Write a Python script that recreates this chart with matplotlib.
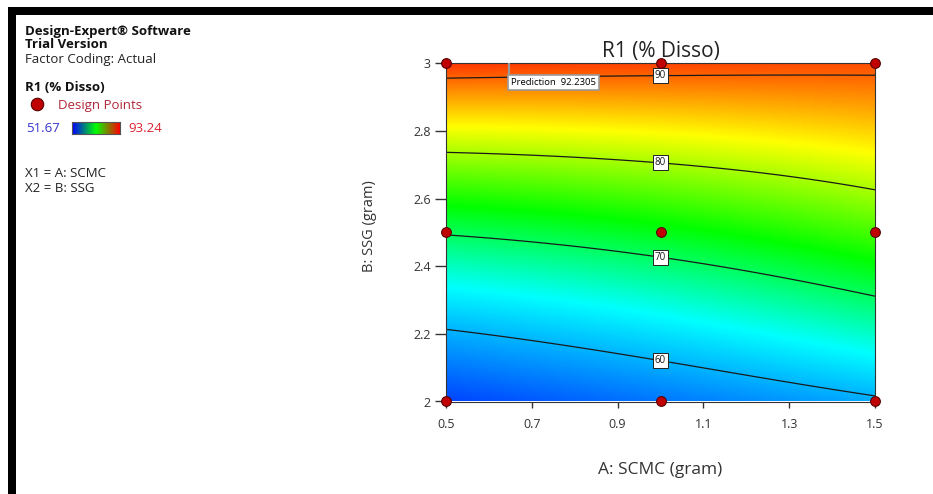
import matplotlib.pyplot as plt
import numpy as np
from matplotlib.colors import LinearSegmentedColormap
from matplotlib.patches import Rectangle

plt.rcParams['font.family'] = ['Open Sans', 'DejaVu Sans']

# design points (A: SCMC, B: SSG)
scmc = [0.5, 1.0, 1.5, 0.5, 1.0, 1.5, 0.5, 1.0, 1.5]
ssg = [2.0, 2.0, 2.0, 2.5, 2.5, 2.5, 3.0, 3.0, 3.0]

# fitted model for R1 in coded units, terms: 1, x, y, xy, x2, y2, xy2, x2y2
coefs = [72.54, 2.90, 17.56, -1.78, 0.63, 1.35, -1.675, -0.545]

levels = [60, 70, 80, 90]
r_low, r_high = 51.67, 93.24
pred_a, pred_b = 0.647, 3.0
pred_value = 92.2305

xticks = [0.5, 0.7, 0.9, 1.1, 1.3, 1.5]
xtick_labels = ['0.5', '0.7', '0.9', '1.1', '1.3', '1.5']
yticks = [2.0, 2.2, 2.4, 2.6, 2.8, 3.0]
ytick_labels = ['2', '2.2', '2.4', '2.6', '2.8', '3']


def r1(a, b):
    x = (a - 1.0) / 0.5
    y = (b - 2.5) / 0.5
    c = coefs
    return (c[0] + c[1] * x + c[2] * y + c[3] * x * y + c[4] * x ** 2
            + c[5] * y ** 2 + c[6] * x * y ** 2 + c[7] * x ** 2 * y ** 2)


W, H = 933, 494
fig = plt.figure(figsize=(W / 100, H / 100), dpi=100)


def fx(px):
    return px / W


def fy(py):
    return 1 - py / H


cmap = LinearSegmentedColormap.from_list(
    'de', [(0.0, '#0028ff'), (0.3, '#00ffff'), (0.52, '#00ff00'),
           (0.76, '#ffff00'), (1.0, '#ff1800')])

ax = fig.add_axes([fx(446), fy(401.5), fx(875) - fx(446), (401.5 - 63.5) / H])

A = np.linspace(0.5, 1.5, 400)
B = np.linspace(2.0, 3.0, 400)
AA, BB = np.meshgrid(A, B)
Z = r1(AA, BB)

ax.imshow(Z, extent=[0.5, 1.5, 2.0, 3.0], origin='lower', aspect='auto',
          cmap=cmap, vmin=r_low, vmax=r_high, interpolation='bilinear')
cs = ax.contour(A, B, Z, levels=levels, colors='#1a1a1a', linewidths=0.9)

# contour labels placed on the A = 1.0 line
mid = np.argmin(np.abs(A - 1.0))
positions = [(1.0, np.interp(lev, Z[:, mid], B)) for lev in levels]
texts = ax.clabel(cs, manual=positions, inline=False, fontsize=7, fmt='%d')
for t in texts:
    t.set_rotation(0)
    t.set_bbox(dict(boxstyle='square,pad=0.2', fc='white', ec='#222222', lw=0.7))

ax.plot(scmc, ssg, 'o', ms=7, mfc='#c00000', mec='#5a0000', mew=0.8,
        clip_on=False, zorder=6)

# prediction flag
ax.plot([pred_a, pred_a], [pred_b, 2.958], color='#999999', lw=1.6, zorder=5)
ax.text(pred_a + 0.004, 2.957, 'Prediction  %.4f' % pred_value, fontsize=6.8,
        ha='left', va='top', zorder=7,
        bbox=dict(boxstyle='square,pad=0.3', fc='white', ec='#999999', lw=1.2))

ax.set_xlim(0.5, 1.5)
ax.set_ylim(2.0, 3.0)
ax.set_xticks(xticks)
ax.set_xticklabels(xtick_labels)
ax.set_yticks(yticks)
ax.set_yticklabels(ytick_labels)
ax.tick_params(axis='x', direction='out', length=4, width=1, pad=8,
               color='#333333', labelsize=9, labelcolor='#333333')
ax.tick_params(axis='y', direction='out', length=8, width=1, pad=3,
               color='#333333', labelsize=9, labelcolor='#333333')
for s in ax.spines.values():
    s.set_color('#333333')
    s.set_linewidth(0.8)

ax.text(0.5, 1.035, 'R1 (% Disso)', transform=ax.transAxes, ha='center',
        va='center', fontsize=15, color='#222222')
ax.set_xlabel('A: SCMC (gram)', fontsize=12.5, color='#333333')
ax.xaxis.set_label_coords(0.5, -0.18)
ax.set_ylabel('B: SSG (gram)', fontsize=10.5, color='#333333')
ax.yaxis.set_label_coords(-0.16, 0.52)

# side legend
fig.text(fx(25), fy(31.5), 'Design-Expert® Software', fontsize=9.5,
         fontweight='bold', va='center', color='#111111')
fig.text(fx(25), fy(44.5), 'Trial Version', fontsize=9.5,
         fontweight='bold', va='center', color='#111111')
fig.text(fx(25), fy(59), 'Factor Coding: Actual', fontsize=9.5,
         va='center', color='#222222')
fig.text(fx(25), fy(87), 'R1 (% Disso)', fontsize=9.5,
         fontweight='bold', va='center', color='#111111')
fig.lines.append(plt.Line2D([fx(37)], [fy(104)], marker='o', ms=9,
                            mfc='#c00000', mec='#5a0000', mew=0.8,
                            transform=fig.transFigure))
fig.text(fx(58), fy(105), 'Design Points', fontsize=9.5, va='center',
         color='#b0283a')
fig.text(fx(26), fy(128), '%.2f' % r_low, fontsize=9.5, va='center',
         color='#3333cc')
fig.text(fx(128), fy(128), '%.2f' % r_high, fontsize=9.5, va='center',
         color='#dd2233')
cax = fig.add_axes([fx(72), fy(134), fx(120) - fx(72), 12 / H])
bar_cmap = LinearSegmentedColormap.from_list('bar', ['#0000ff', '#00ff00', '#ff0000'])
cax.imshow(np.linspace(0, 1, 100).reshape(1, -1), aspect='auto', cmap=bar_cmap)
cax.set_xticks([])
cax.set_yticks([])
for s in cax.spines.values():
    s.set_color('#555555')
    s.set_linewidth(0.8)
fig.text(fx(25), fy(173), 'X1 = A: SCMC', fontsize=9.5, va='center', color='#222222')
fig.text(fx(25), fy(188), 'X2 = B: SSG', fontsize=9.5, va='center', color='#222222')

# black frame bands
fig.patches.append(Rectangle((fx(8), fy(15)), 1 - fx(8), 8 / H,
                             transform=fig.transFigure, color='black', lw=0))
fig.patches.append(Rectangle((fx(8), 0), fx(8), fy(7),
                             transform=fig.transFigure, color='black', lw=0))

fig.savefig('out.png', dpi=100)
